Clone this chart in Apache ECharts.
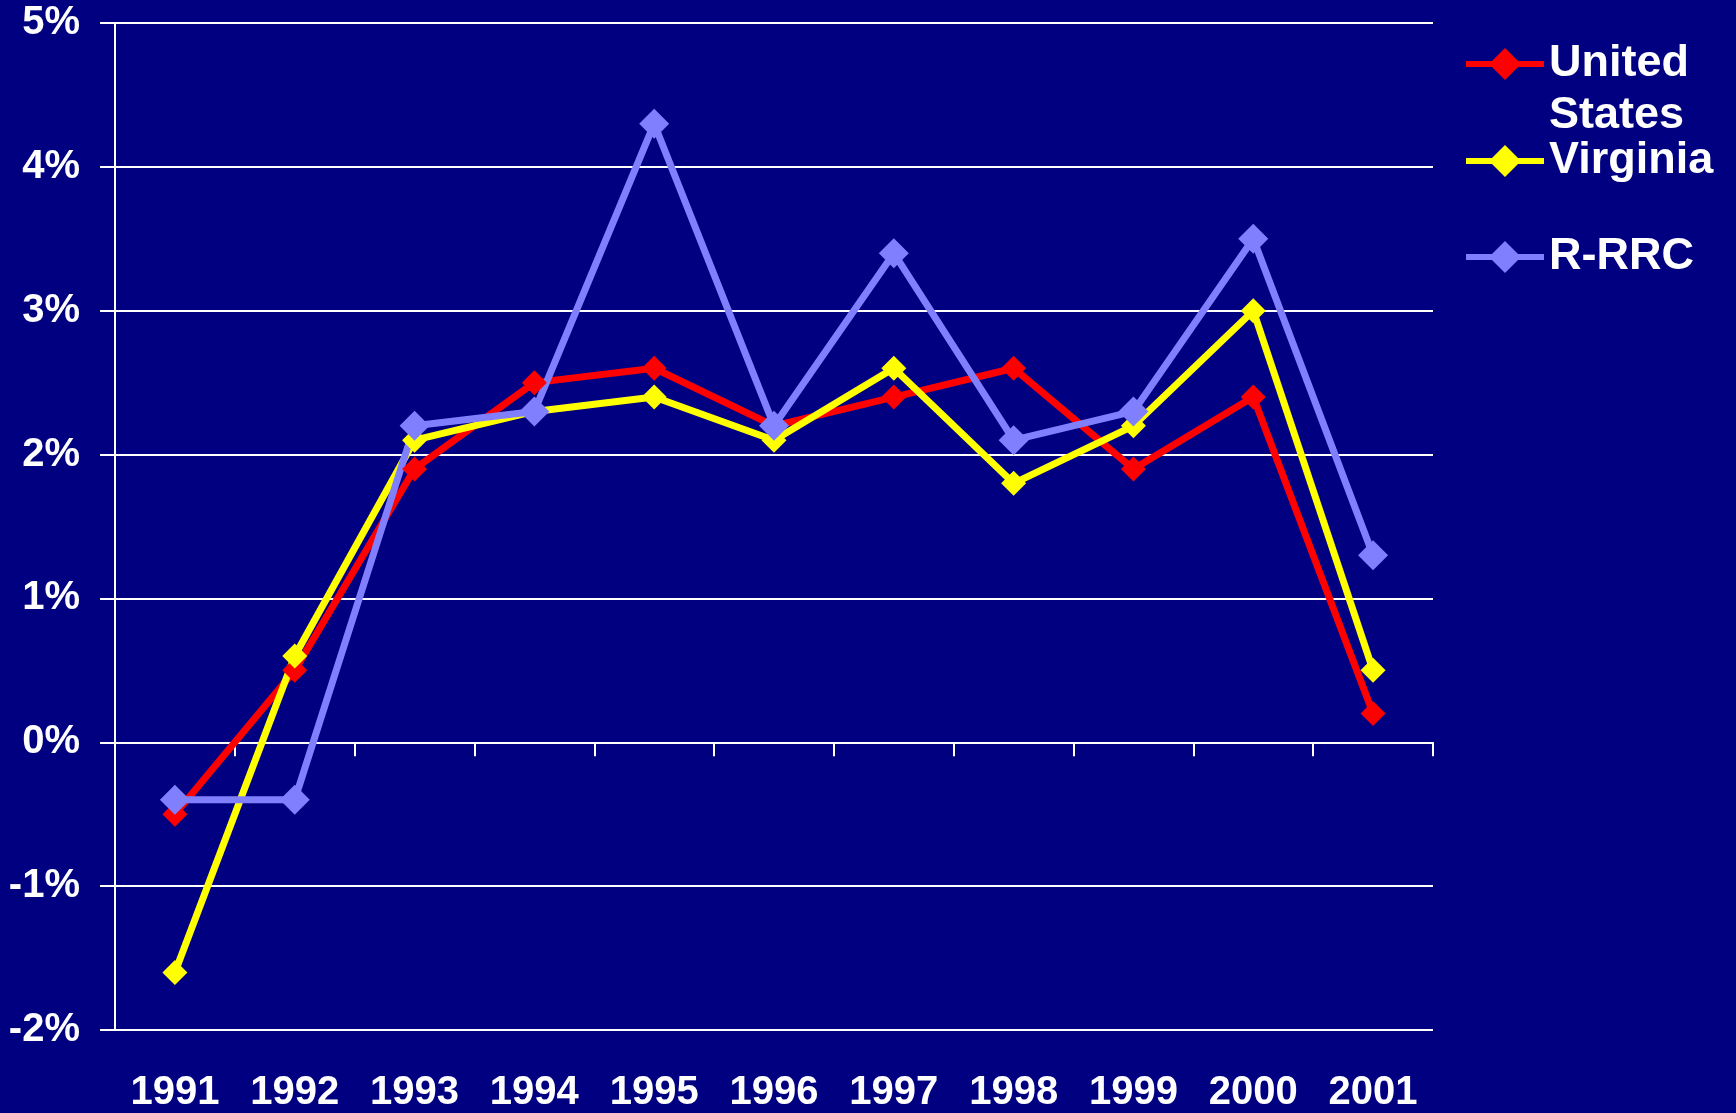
<!DOCTYPE html>
<html>
<head>
<meta charset="utf-8">
<script src="https://cdn.jsdelivr.net/npm/echarts@6/dist/echarts.min.js"></script>
<style>
html,body{margin:0;padding:0;background:#000080;}
#chart{width:1736px;height:1113px;}
</style>
</head>
<body>
<div id="chart"></div>
<script>
const years = ['1991','1992','1993','1994','1995','1996','1997','1998','1999','2000','2001'];
const unitedStates = [-0.5, 0.5, 1.9, 2.5, 2.6, 2.2, 2.4, 2.6, 1.9, 2.4, 0.2];
const virginia = [-1.6, 0.6, 2.1, 2.3, 2.4, 2.1, 2.6, 1.8, 2.2, 3.0, 0.5];
const rrrc = [-0.4, -0.4, 2.2, 2.3, 4.3, 2.2, 3.4, 2.1, 2.3, 3.5, 1.3];
const yTicks = {min: -2, max: 5, interval: 1};

const FONT = '"Liberation Sans", Arial, sans-serif';
const chart = echarts.init(document.getElementById('chart'));
const legendText = {color: '#ffffff', fontSize: 45, fontWeight: 'bold', fontFamily: FONT};
const legendBase = {left: 1463, padding: 0, itemWidth: 78, itemHeight: 40, lineStyle: {width: 6}};

chart.setOption({
  backgroundColor: '#000080',
  animation: false,
  grid: {left: 115, right: 303, top: 23, bottom: 80, containLabel: false},
  legend: [
    Object.assign({}, legendBase, {data: ['United States'], top: -14,
     formatter: () => ' \nUnited\nStates',
     textStyle: Object.assign({}, legendText, {lineHeight: 52})}),
    Object.assign({}, legendBase, {data: ['Virginia'], top: 137,
     textStyle: Object.assign({}, legendText, {lineHeight: 48})}),
    Object.assign({}, legendBase, {data: ['R-RRC'], top: 233,
     textStyle: Object.assign({}, legendText, {lineHeight: 48})})
  ],
  xAxis: [
    {type: 'category', data: years, position: 'top', boundaryGap: true,
     axisLine: {show: true, onZero: true, lineStyle: {color: '#ffffff', width: 2}},
     axisTick: {show: true, inside: true, length: 14, lineStyle: {color: '#ffffff', width: 2}},
     axisLabel: {show: false}, splitLine: {show: false}},
    {type: 'category', data: years, position: 'bottom', boundaryGap: true,
     axisLine: {show: false, onZero: false}, axisTick: {show: false},
     axisLabel: {show: true, color: '#ffffff', fontSize: 40, fontWeight: 'bold', fontFamily: FONT, margin: 43},
     splitLine: {show: false}}
  ],
  yAxis: {
    type: 'value', min: yTicks.min, max: yTicks.max, interval: yTicks.interval,
    axisLine: {show: true, onZero: false, lineStyle: {color: '#ffffff', width: 2}},
    axisTick: {show: true, length: 15, lineStyle: {color: '#ffffff', width: 2}},
    axisLabel: {formatter: '{value}%', color: '#ffffff', fontSize: 40, fontWeight: 'bold', fontFamily: FONT, margin: 35},
    splitLine: {show: true, lineStyle: {color: '#ffffff', width: 2}}
  },
  series: [
    {name: 'United States', type: 'line', xAxisIndex: 1, data: unitedStates,
     symbol: 'diamond', symbolSize: 25, showAllSymbol: true,
     lineStyle: {color: '#ff0000', width: 7}, itemStyle: {color: '#ff0000'}},
    {name: 'Virginia', type: 'line', xAxisIndex: 1, data: virginia,
     symbol: 'diamond', symbolSize: 25, showAllSymbol: true,
     lineStyle: {color: '#ffff00', width: 7}, itemStyle: {color: '#ffff00'}},
    {name: 'R-RRC', type: 'line', xAxisIndex: 1, data: rrrc,
     symbol: 'diamond', symbolSize: 30, showAllSymbol: true,
     lineStyle: {color: '#8080ff', width: 7}, itemStyle: {color: '#8080ff'}}
  ]
});
</script>
</body>
</html>
